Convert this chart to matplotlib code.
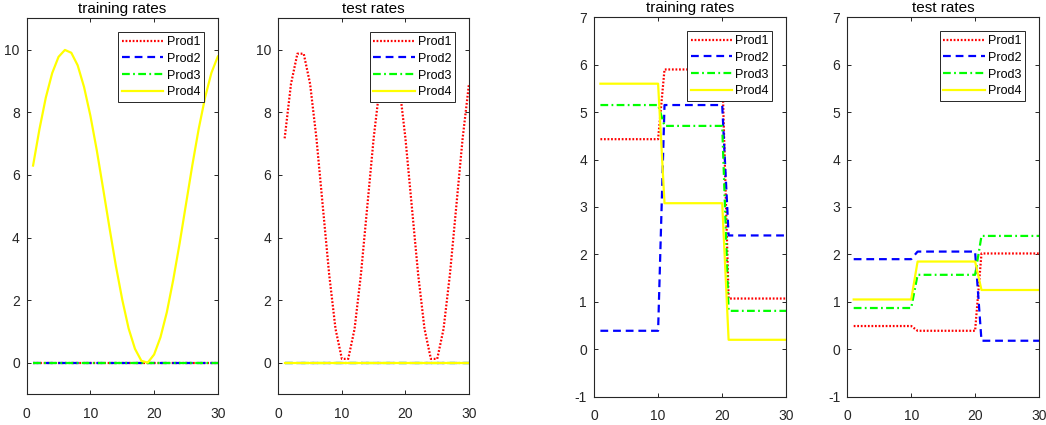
import numpy as np
import matplotlib
matplotlib.use("Agg")
import matplotlib.pyplot as plt

plt.rcParams['font.family'] = ['Liberation Sans', 'DejaVu Sans']
plt.rcParams['axes.unicode_minus'] = False

x = np.arange(1, 31)

# left pair: sine-like rates
train1_p1 = [0.0] * 30
train1_p2 = [0.0] * 30
train1_p3 = [0.0] * 30
train1_p4 = [6.30, 7.46, 8.47, 9.25, 9.77, 9.99, 9.90, 9.50, 8.81, 7.89,
             6.79, 5.56, 4.31, 3.10, 2.02, 1.10, 0.45, 0.07, 0.01, 0.27,
             0.82, 1.62, 2.65, 3.81, 5.06, 6.31, 7.47, 8.47, 9.26, 9.78]

test1_p1 = [7.17, 8.91, 9.87, 9.87, 8.91, 7.17, 5.00, 2.83, 1.09, 0.13,
            0.13, 1.09, 2.83, 5.00, 7.17, 8.91, 9.87, 9.87, 8.91, 7.17,
            5.00, 2.83, 1.09, 0.13, 0.13, 1.09, 2.83, 5.00, 7.17, 8.91]
test1_p2 = [0.0] * 30
test1_p3 = [0.0] * 30
test1_p4 = [0.0] * 30

# right pair: piecewise constant rates (x=1..10, 11..20, 21..30)
train2_p1 = [4.43] * 10 + [5.90] * 10 + [1.07] * 10
train2_p2 = [0.39] * 10 + [5.15] * 10 + [2.40] * 10
train2_p3 = [5.15] * 10 + [4.71] * 10 + [0.81] * 10
train2_p4 = [5.60] * 10 + [3.08] * 10 + [0.20] * 10

test2_p1 = [0.49] * 10 + [0.39] * 10 + [2.02] * 10
test2_p2 = [1.90] * 10 + [2.06] * 10 + [0.18] * 10
test2_p3 = [0.87] * 10 + [1.57] * 10 + [2.39] * 10
test2_p4 = [1.05] * 10 + [1.85] * 10 + [1.25] * 10

labels = ['Prod1', 'Prod2', 'Prod3', 'Prod4']
colors = ['#ff0000', '#0000ff', '#00ff00', '#ffff00']
styles = [(0, (0.8, 0.8)), (0, (3.5, 2.2)), (0, (3.5, 1.5, 0.8, 1.5)), '-']

W, H = 1046, 425
fig = plt.figure(figsize=(W / 100, H / 100), dpi=100)

# pixel boxes: left, right, top, bottom
boxes = [(26.7, 217.8, 18.3, 394.3),
         (278.3, 469.0, 18.3, 394.3),
         (594.0, 786.3, 17.3, 396.7),
         (847.3, 1039.0, 17.3, 396.7)]

panels = [("training rates", [train1_p1, train1_p2, train1_p3, train1_p4], (-1, 11), np.arange(0, 11, 2)),
          ("test rates", [test1_p1, test1_p2, test1_p3, test1_p4], (-1, 11), np.arange(0, 11, 2)),
          ("training rates", [train2_p1, train2_p2, train2_p3, train2_p4], (-1, 7), np.arange(-1, 8, 1)),
          ("test rates", [test2_p1, test2_p2, test2_p3, test2_p4], (-1, 7), np.arange(-1, 8, 1))]

edge = '#262626'
for (l, r, t, b), (title, series, ylim, yticks) in zip(boxes, panels):
    ax = fig.add_axes([l / W, 1 - b / H, (r - l) / W, (b - t) / H])
    for ys, lab, c, ls in zip(series, labels, colors, styles):
        ax.plot(x, ys, color=c, linestyle=ls, linewidth=1.6, label=lab)
    ax.set_xlim(0, 30)
    ax.set_ylim(*ylim)
    ax.set_xticks([0, 10, 20, 30])
    ax.set_yticks(yticks)
    ax.tick_params(direction='in', top=True, right=True, length=3, width=0.7,
                   colors=edge, labelsize=10)
    ax.tick_params(axis='x', pad=9)
    ax.tick_params(axis='y', pad=5)
    for s in ax.spines.values():
        s.set_color(edge)
        s.set_linewidth(0.8)
    ax.set_title(title, fontsize=11, color='black', pad=3.5)
    leg = ax.legend(loc='upper right',
                    bbox_to_anchor=(1 - 14 / (r - l), 1 - 14 / (b - t)),
                    borderaxespad=0, fontsize=9, handlelength=3.3, handletextpad=0.25,
                    labelspacing=0.38, borderpad=0.3, fancybox=False, framealpha=1)
    leg.get_frame().set_edgecolor(edge)
    leg.get_frame().set_linewidth(0.7)

fig.savefig("out.png", dpi=100)
